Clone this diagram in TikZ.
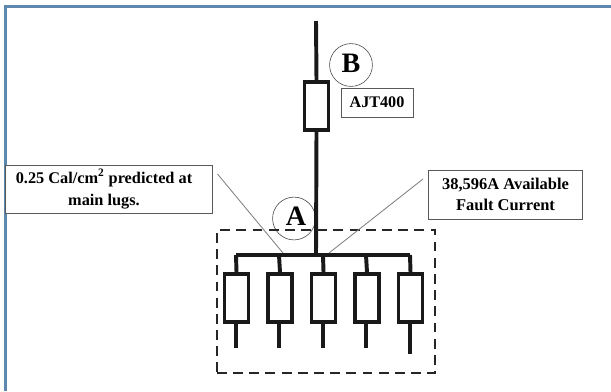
\documentclass[tikz,border=0pt]{standalone}
\usepackage{fontspec}
\setmainfont{Liberation Serif}
\usepackage{xcolor}
\usepackage{tikz}
\usetikzlibrary{positioning}
\definecolor{framecol}{HTML}{5F88AE}

\begin{document}
\begin{tikzpicture}
            [x=0.025cm, y=-0.025cm,
            wire/.style = {line width=2.8pt, color=black!90},
            brk/.style = {minimum width=0.6cm, minimum height=1.2cm, draw=black!90, line width=2.6pt, fill=white, inner sep=0pt},
            lbl/.style = {draw=black!65, line width=0.7pt, fill=white, align=center, inner sep=0pt},
            lead/.style = {draw=black!50, line width=0.6pt},
            ring/.style = {draw=black!75, line width=0.4pt, circle, minimum size=1.07cm, inner sep=0pt, font=\bfseries\fontsize{20}{20}\selectfont}]

            \useasboundingbox (0,0) rectangle (611,391);

            \coordinate (f0) at (5.5,391);
            \coordinate (f1) at (5.5,6.5);
            \coordinate (f2) at (611,6.5);
            \draw[framecol, line width=2.1pt] (f0) -- (f1) -- (f2);

            \node[ring] (ringB) at (351,65) {\raisebox{0.1cm}{B}};
            \node[ring] (ringA) at (294,218.5) {\hspace*{0.1cm}\raisebox{0.1cm}{A}};

            \coordinate (top) at (316,21);
            \coordinate (j0) at (316,255);
            \coordinate (j1) at (236,255);
            \coordinate (j2) at (279,255);
            \coordinate (j3) at (323,255);
            \coordinate (j4) at (366,255);
            \coordinate (j5) at (410,255);

            \node[brk] (brkB) at (316.5,106) {};
            \node[brk] (brk1) at (236.5,298) {};
            \node[brk] (brk2) at (280,298) {};
            \node[brk] (brk3) at (323.5,298) {};
            \node[brk] (brk4) at (367,298) {};
            \node[brk] (brk5) at (410.5,298) {};

            \coordinate (s1a) at (236,324);
            \coordinate (s1b) at (236,348);
            \coordinate (s2a) at (279,324);
            \coordinate (s2b) at (279,348);
            \coordinate (s3a) at (323,324);
            \coordinate (s3b) at (323,348);
            \coordinate (s4a) at (366,324);
            \coordinate (s4b) at (366,348);
            \coordinate (s5a) at (410,324);
            \coordinate (s5b) at (410,354);

            \draw[wire] (top) -- (brkB.north);
            \draw[wire] (brkB.south) -- (j0);
            \draw[wire, line cap=square] (j1) -- (j5);
            \draw[wire] (j1) -- (brk1.north);
            \draw[wire] (j2) -- (brk2.north);
            \draw[wire] (j3) -- (brk3.north);
            \draw[wire] (j4) -- (brk4.north);
            \draw[wire] (j5) -- (brk5.north);
            \draw[wire] (s1a) -- (s1b);
            \draw[wire] (s2a) -- (s2b);
            \draw[wire] (s3a) -- (s3b);
            \draw[wire] (s4a) -- (s4b);
            \draw[wire] (s5a) -- (s5b);

            \node[draw=black!85, dashed, line width=1.1pt, dash pattern=on 7pt off 4.5pt, minimum width=5.45cm, minimum height=3.575cm, inner sep=0pt] (zone) at (326,301.5) {};

            \node[lbl, minimum width=1.8cm, minimum height=0.725cm, font=\bfseries\fontsize{11.5}{15}\selectfont] (ajt) at (377,102.5) {AJT400};
            \node[lbl, minimum width=5.15cm, minimum height=1.2cm, font=\bfseries\fontsize{11.6}{15.6}\selectfont] (lugs) at (109,189) {0.25 Cal/cm\textsuperscript{2} predicted at\hspace*{0.25cm}\\main lugs.\hspace*{0.25cm}};
            \node[lbl, minimum width=3.825cm, minimum height=1.225cm, font=\bfseries\fontsize{11.7}{14.4}\selectfont] (fault) at (505.5,194.5) {38,596A Available\\Fault Current};

            \coordinate (leadL) at (217.5,174);
            \coordinate (leadLe) at (283,253);
            \coordinate (leadR) at (423,179);
            \coordinate (leadRe) at (329,253);
            \draw[lead] (leadL) -- (leadLe);
            \draw[lead] (leadR) -- (leadRe);

        \end{tikzpicture}
\end{document}
